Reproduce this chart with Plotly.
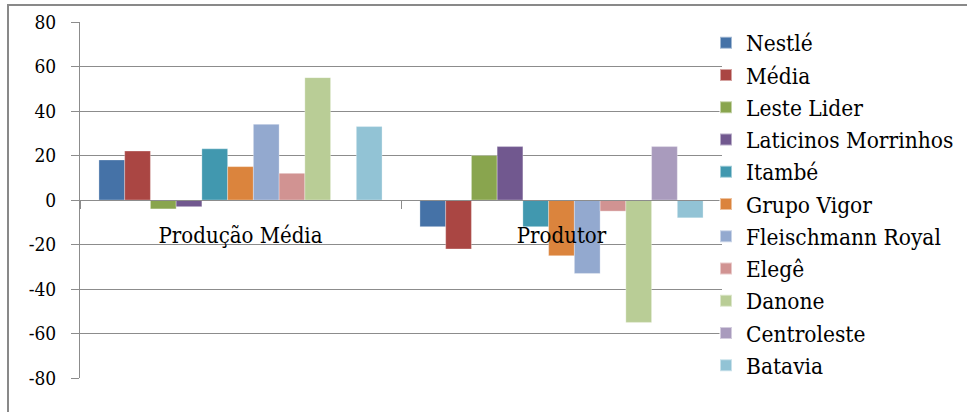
import plotly.graph_objects as go

categories = ["Produção Média", "Produtor"]
series_names = ["Nestlé", "Média", "Leste Lider", "Laticinos Morrinhos", "Itambé",
                "Grupo Vigor", "Fleischmann Royal", "Elegê", "Danone", "Centroleste", "Batavia"]
nestle = [18, -12]
media = [22, -22]
leste_lider = [-4, 20]
laticinos_morrinhos = [-3, 24]
itambe = [23, -12]
grupo_vigor = [15, -25]
fleischmann_royal = [34, -33]
elege = [12, -5]
danone = [55, -55]
centroleste = [0, 24]
batavia = [33, -8]
y_ticks = [-80, -60, -40, -20, 0, 20, 40, 60, 80]
y_tick_labels = [str(v) for v in y_ticks]

series_values = [nestle, media, leste_lider, laticinos_morrinhos, itambe, grupo_vigor,
                 fleischmann_royal, elege, danone, centroleste, batavia]
colors = ["#4572A7", "#AA4643", "#89A54E", "#71588F", "#4198AF", "#DB843D",
          "#93A9CF", "#D19392", "#B9CD96", "#A99BBD", "#92C3D5"]

FONT = "DejaVu Serif Condensed, DejaVu Serif, serif"
GRID = "#8c8c8c"

fig = go.Figure()
for name, vals, col in zip(series_names, series_values, colors):
    fig.add_trace(go.Bar(name=name, x=categories, y=vals,
                         marker=dict(color=col, line=dict(color="rgba(255,255,255,0.5)", width=0.6))))

W, H = 967, 412
L, R, T, B = 80, 245, 22, 34
pw, ph = W - L - R, H - T - B

fig.update_layout(
    width=W, height=H,
    margin=dict(l=L, r=R, t=T, b=B, autoexpand=False),
    paper_bgcolor="white", plot_bgcolor="white",
    barmode="group", bargap=0.118, bargroupgap=0,
    font=dict(family=FONT, color="black"),
    showlegend=True,
    legend=dict(x=(706 - L) / pw, xanchor="left", y=(H - B - 21.5) / ph, yanchor="top",
                font=dict(size=22.5, family=FONT), tracegroupgap=0, maxheight=H,
                bgcolor="rgba(0,0,0,0)", itemsizing="constant"),
    yaxis=dict(range=[-80, 80], tickvals=y_ticks, ticktext=y_tick_labels,
               showgrid=True, gridcolor=GRID, gridwidth=1,
               zeroline=True, zerolinecolor=GRID, zerolinewidth=1,
               showline=True, linecolor=GRID, linewidth=1,
               ticks="outside", ticklen=8, tickcolor=GRID,
               tickfont=dict(size=19, family=FONT), ticklabelstandoff=11),
    xaxis=dict(type="category", anchor="free", position=0.5, showgrid=False,
               showline=True, linecolor=GRID, linewidth=1,
               ticks="outside", tickson="boundaries", ticklen=8, tickcolor=GRID,
               tickfont=dict(size=22, family=FONT), ticklabelstandoff=16),
    shapes=[dict(type="rect", xref="paper", yref="paper",
                 x0=(8 - L) / pw, x1=(W + 10 - L) / pw,
                 y0=(H - B - (H + 10)) / ph, y1=(H - B - 5) / ph,
                 line=dict(color="#898989", width=2), fillcolor="rgba(0,0,0,0)", layer="below")],
)

fig.write_html("out.html")
